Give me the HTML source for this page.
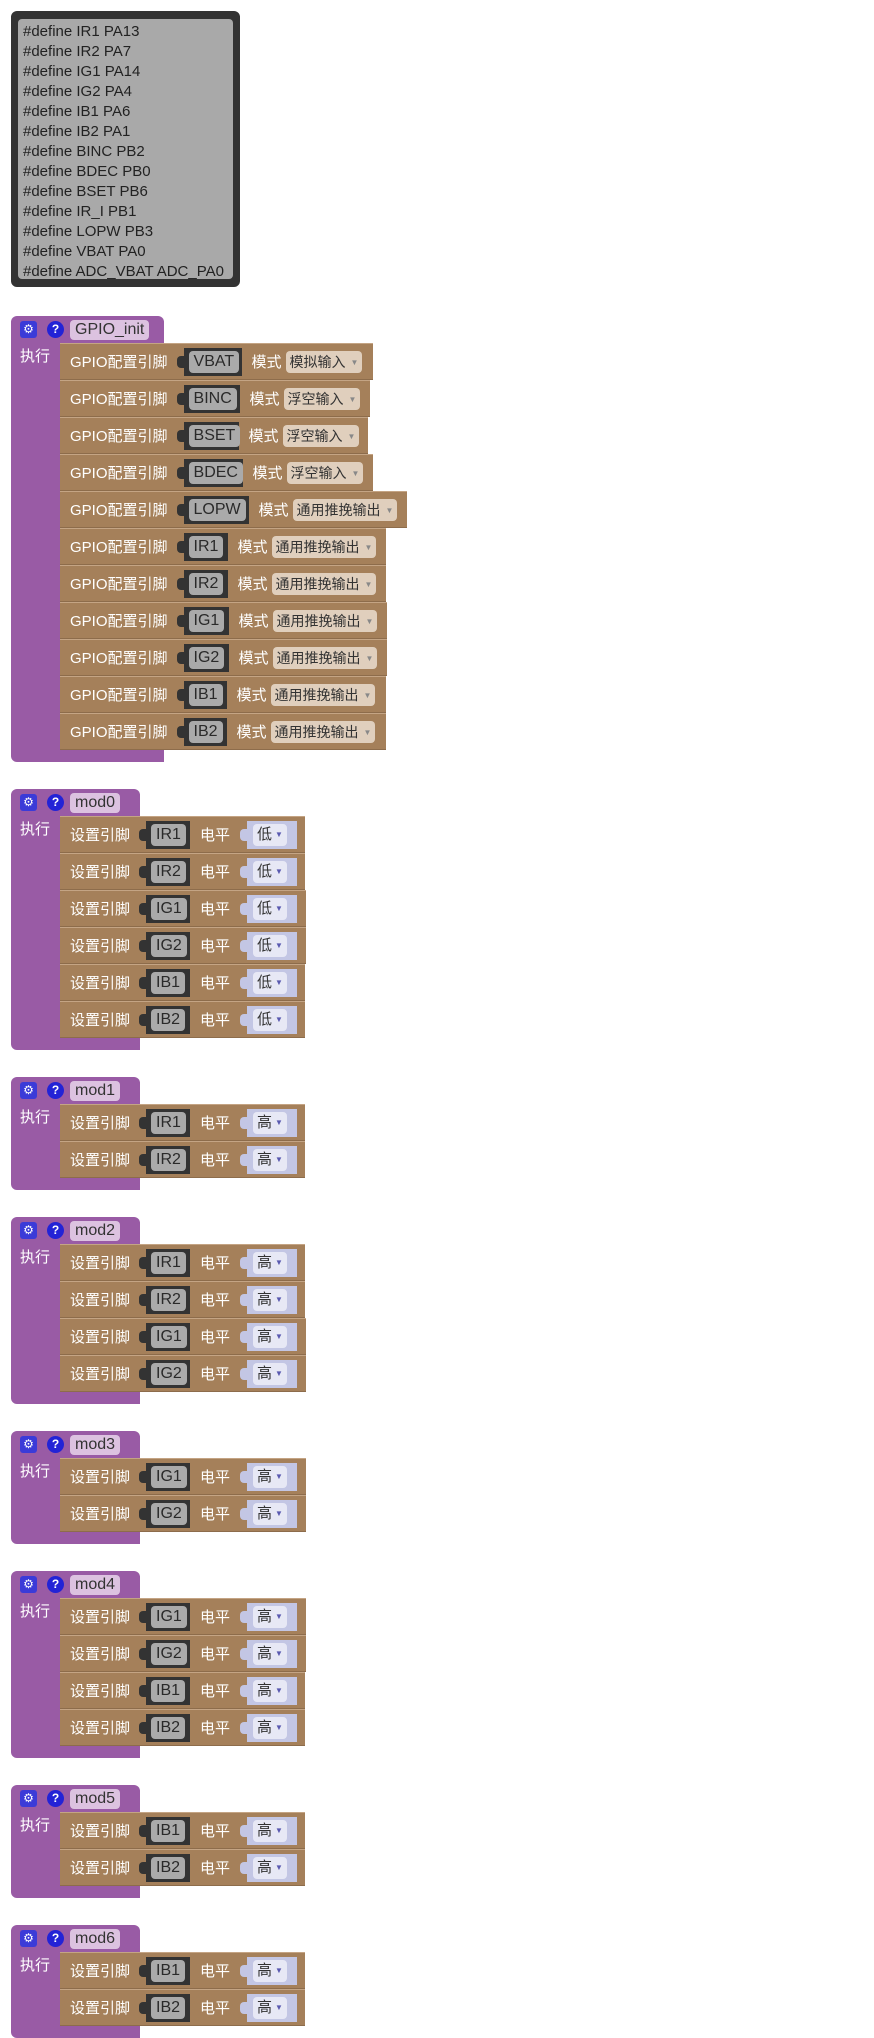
<!DOCTYPE html>
<html><head><meta charset="utf-8">
<style>
body{margin:0;width:874px;height:2000px;background:#fff;position:relative;overflow:hidden;font-family:"Liberation Sans","Noto Sans CJK SC",sans-serif}
.code{position:absolute;left:11px;top:11px;width:219px;height:266px;border:5px solid #333;border-radius:6px;background:#333}
.code .in{position:absolute;left:2px;top:3px;right:2px;bottom:3px;background:#a9a9a9;border-radius:4px;padding:3px 5px;font-size:15px;line-height:20px;color:#222;white-space:pre}
.blk{position:absolute;left:11px}
.hd{height:27px;background:#995ba5;border-radius:6px 6px 0 0;position:relative}
.gear{position:absolute;left:9px;top:5px;width:17px;height:17px;background:#3b3bd8;border-radius:3px;color:#fff;font-size:12px;line-height:17px;text-align:center}
.q{position:absolute;left:36px;top:5px;width:17px;height:17px;background:#2323d6;border-radius:50%;color:#fff;font-size:12px;font-weight:bold;line-height:17px;text-align:center}
.nm{position:absolute;left:59px;top:4px;height:20px;background:#dcc2e0;border-radius:4px;color:#333;font-size:16px;line-height:20px;padding:0 5px;white-space:nowrap}
.bd{display:flex}
.lc{width:49px;background:#995ba5;color:#fff;font-size:15px;padding-left:9px;box-sizing:border-box;padding-top:2px;font-family:"Noto Sans CJK SC",sans-serif}
.rows{display:flex;flex-direction:column;align-items:flex-start}
.r{height:37px;background:#a5805a;box-sizing:border-box;border-top:1px solid #c4a484;border-bottom:1px solid #8d6c4b;display:flex;align-items:center;padding-left:10px;color:#fff;font-size:15px;white-space:nowrap;font-family:"Liberation Sans","Noto Sans CJK SC",sans-serif;position:relative;overflow:hidden}
.ft{height:12px;background:#995ba5;border-radius:0 0 0 6px}
.pin{background:#333;height:28px;display:flex;align-items:center;padding:0 5px;position:relative;margin-left:16px;box-sizing:border-box;flex-shrink:0}
.pin:before{content:"";position:absolute;left:-7px;top:8px;width:7px;height:12px;background:#333;border-radius:4px 0 0 4px}
.pl{background:#aaa;color:#2a2a2a;border-radius:4px;height:22px;line-height:22px;padding:0 5px;font-family:"Liberation Sans",sans-serif;font-size:16px}
.md{margin-left:10px}
.dd{margin-left:4px;background:#e0cfbd;color:#333;border-radius:4px;height:22px;line-height:22px;padding:0 4px;font-size:14px}
.tri{font-size:8px;color:#888;margin-left:5px;vertical-align:2px}
.val{background:#c3c6e4;height:28px;display:flex;align-items:center;padding:0 6px;position:relative;margin-left:17px;box-sizing:border-box;width:50px;flex-shrink:0}
.val:before{content:"";position:absolute;left:-7px;top:8px;width:7px;height:12px;background:#c3c6e4;border-radius:4px 0 0 4px}
.vl{background:#e7e8f5;color:#333;border-radius:4px;height:22px;line-height:22px;padding:0 4px;font-size:15px;white-space:nowrap}
.vl .tri{color:#5a5ab0;margin-left:3px}
.s .pin{width:44px;margin-left:16px}
.s .lv{margin-left:10px}
</style></head><body>

<div class="code"><div class="in">#define IR1 PA13
#define IR2 PA7
#define IG1 PA14
#define IG2 PA4
#define IB1 PA6
#define IB2 PA1
#define BINC PB2
#define BDEC PB0
#define BSET PB6
#define IR_I PB1
#define LOPW PB3
#define VBAT PA0
#define ADC_VBAT ADC_PA0</div></div>

<div class="blk" style="top:316px">
<div class="hd" style="width:153px"><div class="gear">⚙</div><div class="q">?</div><div class="nm">GPIO_init</div></div>
<div class="bd"><div class="lc">执行</div><div class="rows">
<div class="r" style="width:313px">GPIO配置引脚<div class="pin" style="width:58px"><span class="pl">VBAT</span></div><span class="md">模式</span><span class="dd">模拟输入<span class="tri">▼</span></span></div>
<div class="r" style="width:310px">GPIO配置引脚<div class="pin" style="width:56px"><span class="pl">BINC</span></div><span class="md">模式</span><span class="dd">浮空输入<span class="tri">▼</span></span></div>
<div class="r" style="width:308px">GPIO配置引脚<div class="pin" style="width:55px"><span class="pl">BSET</span></div><span class="md">模式</span><span class="dd">浮空输入<span class="tri">▼</span></span></div>
<div class="r" style="width:313px">GPIO配置引脚<div class="pin" style="width:59px"><span class="pl">BDEC</span></div><span class="md">模式</span><span class="dd">浮空输入<span class="tri">▼</span></span></div>
<div class="r" style="width:347px">GPIO配置引脚<div class="pin" style="width:65px"><span class="pl">LOPW</span></div><span class="md">模式</span><span class="dd">通用推挽输出<span class="tri">▼</span></span></div>
<div class="r" style="width:326px">GPIO配置引脚<div class="pin" style="width:44px"><span class="pl">IR1</span></div><span class="md">模式</span><span class="dd">通用推挽输出<span class="tri">▼</span></span></div>
<div class="r" style="width:326px">GPIO配置引脚<div class="pin" style="width:44px"><span class="pl">IR2</span></div><span class="md">模式</span><span class="dd">通用推挽输出<span class="tri">▼</span></span></div>
<div class="r" style="width:327px">GPIO配置引脚<div class="pin" style="width:45px"><span class="pl">IG1</span></div><span class="md">模式</span><span class="dd">通用推挽输出<span class="tri">▼</span></span></div>
<div class="r" style="width:327px">GPIO配置引脚<div class="pin" style="width:45px"><span class="pl">IG2</span></div><span class="md">模式</span><span class="dd">通用推挽输出<span class="tri">▼</span></span></div>
<div class="r" style="width:326px">GPIO配置引脚<div class="pin" style="width:43px"><span class="pl">IB1</span></div><span class="md">模式</span><span class="dd">通用推挽输出<span class="tri">▼</span></span></div>
<div class="r" style="width:326px">GPIO配置引脚<div class="pin" style="width:43px"><span class="pl">IB2</span></div><span class="md">模式</span><span class="dd">通用推挽输出<span class="tri">▼</span></span></div>
</div></div>
<div class="ft" style="width:153px"></div>
</div>

<div class="blk s" style="top:789px">
<div class="hd" style="width:129px"><div class="gear">⚙</div><div class="q">?</div><div class="nm">mod0</div></div>
<div class="bd"><div class="lc">执行</div><div class="rows">
<div class="r" style="width:245px">设置引脚<div class="pin"><span class="pl">IR1</span></div><span class="lv">电平</span><div class="val"><span class="vl">低<span class="tri">▼</span></span></div></div>
<div class="r" style="width:245px">设置引脚<div class="pin"><span class="pl">IR2</span></div><span class="lv">电平</span><div class="val"><span class="vl">低<span class="tri">▼</span></span></div></div>
<div class="r" style="width:246px">设置引脚<div class="pin"><span class="pl">IG1</span></div><span class="lv">电平</span><div class="val"><span class="vl">低<span class="tri">▼</span></span></div></div>
<div class="r" style="width:246px">设置引脚<div class="pin"><span class="pl">IG2</span></div><span class="lv">电平</span><div class="val"><span class="vl">低<span class="tri">▼</span></span></div></div>
<div class="r" style="width:245px">设置引脚<div class="pin"><span class="pl">IB1</span></div><span class="lv">电平</span><div class="val"><span class="vl">低<span class="tri">▼</span></span></div></div>
<div class="r" style="width:245px">设置引脚<div class="pin"><span class="pl">IB2</span></div><span class="lv">电平</span><div class="val"><span class="vl">低<span class="tri">▼</span></span></div></div>
</div></div>
<div class="ft" style="width:129px"></div>
</div>

<div class="blk s" style="top:1077px">
<div class="hd" style="width:129px"><div class="gear">⚙</div><div class="q">?</div><div class="nm">mod1</div></div>
<div class="bd"><div class="lc">执行</div><div class="rows">
<div class="r" style="width:245px">设置引脚<div class="pin"><span class="pl">IR1</span></div><span class="lv">电平</span><div class="val"><span class="vl">高<span class="tri">▼</span></span></div></div>
<div class="r" style="width:245px">设置引脚<div class="pin"><span class="pl">IR2</span></div><span class="lv">电平</span><div class="val"><span class="vl">高<span class="tri">▼</span></span></div></div>
</div></div>
<div class="ft" style="width:129px"></div>
</div>

<div class="blk s" style="top:1217px">
<div class="hd" style="width:129px"><div class="gear">⚙</div><div class="q">?</div><div class="nm">mod2</div></div>
<div class="bd"><div class="lc">执行</div><div class="rows">
<div class="r" style="width:245px">设置引脚<div class="pin"><span class="pl">IR1</span></div><span class="lv">电平</span><div class="val"><span class="vl">高<span class="tri">▼</span></span></div></div>
<div class="r" style="width:245px">设置引脚<div class="pin"><span class="pl">IR2</span></div><span class="lv">电平</span><div class="val"><span class="vl">高<span class="tri">▼</span></span></div></div>
<div class="r" style="width:246px">设置引脚<div class="pin"><span class="pl">IG1</span></div><span class="lv">电平</span><div class="val"><span class="vl">高<span class="tri">▼</span></span></div></div>
<div class="r" style="width:246px">设置引脚<div class="pin"><span class="pl">IG2</span></div><span class="lv">电平</span><div class="val"><span class="vl">高<span class="tri">▼</span></span></div></div>
</div></div>
<div class="ft" style="width:129px"></div>
</div>

<div class="blk s" style="top:1431px">
<div class="hd" style="width:129px"><div class="gear">⚙</div><div class="q">?</div><div class="nm">mod3</div></div>
<div class="bd"><div class="lc">执行</div><div class="rows">
<div class="r" style="width:246px">设置引脚<div class="pin"><span class="pl">IG1</span></div><span class="lv">电平</span><div class="val"><span class="vl">高<span class="tri">▼</span></span></div></div>
<div class="r" style="width:246px">设置引脚<div class="pin"><span class="pl">IG2</span></div><span class="lv">电平</span><div class="val"><span class="vl">高<span class="tri">▼</span></span></div></div>
</div></div>
<div class="ft" style="width:129px"></div>
</div>

<div class="blk s" style="top:1571px">
<div class="hd" style="width:129px"><div class="gear">⚙</div><div class="q">?</div><div class="nm">mod4</div></div>
<div class="bd"><div class="lc">执行</div><div class="rows">
<div class="r" style="width:246px">设置引脚<div class="pin"><span class="pl">IG1</span></div><span class="lv">电平</span><div class="val"><span class="vl">高<span class="tri">▼</span></span></div></div>
<div class="r" style="width:246px">设置引脚<div class="pin"><span class="pl">IG2</span></div><span class="lv">电平</span><div class="val"><span class="vl">高<span class="tri">▼</span></span></div></div>
<div class="r" style="width:245px">设置引脚<div class="pin"><span class="pl">IB1</span></div><span class="lv">电平</span><div class="val"><span class="vl">高<span class="tri">▼</span></span></div></div>
<div class="r" style="width:245px">设置引脚<div class="pin"><span class="pl">IB2</span></div><span class="lv">电平</span><div class="val"><span class="vl">高<span class="tri">▼</span></span></div></div>
</div></div>
<div class="ft" style="width:129px"></div>
</div>

<div class="blk s" style="top:1785px">
<div class="hd" style="width:129px"><div class="gear">⚙</div><div class="q">?</div><div class="nm">mod5</div></div>
<div class="bd"><div class="lc">执行</div><div class="rows">
<div class="r" style="width:245px">设置引脚<div class="pin"><span class="pl">IB1</span></div><span class="lv">电平</span><div class="val"><span class="vl">高<span class="tri">▼</span></span></div></div>
<div class="r" style="width:245px">设置引脚<div class="pin"><span class="pl">IB2</span></div><span class="lv">电平</span><div class="val"><span class="vl">高<span class="tri">▼</span></span></div></div>
</div></div>
<div class="ft" style="width:129px"></div>
</div>

<div class="blk s" style="top:1925px">
<div class="hd" style="width:129px"><div class="gear">⚙</div><div class="q">?</div><div class="nm">mod6</div></div>
<div class="bd"><div class="lc">执行</div><div class="rows">
<div class="r" style="width:245px">设置引脚<div class="pin"><span class="pl">IB1</span></div><span class="lv">电平</span><div class="val"><span class="vl">高<span class="tri">▼</span></span></div></div>
<div class="r" style="width:245px">设置引脚<div class="pin"><span class="pl">IB2</span></div><span class="lv">电平</span><div class="val"><span class="vl">高<span class="tri">▼</span></span></div></div>
</div></div>
<div class="ft" style="width:129px"></div>
</div>

</body></html>
